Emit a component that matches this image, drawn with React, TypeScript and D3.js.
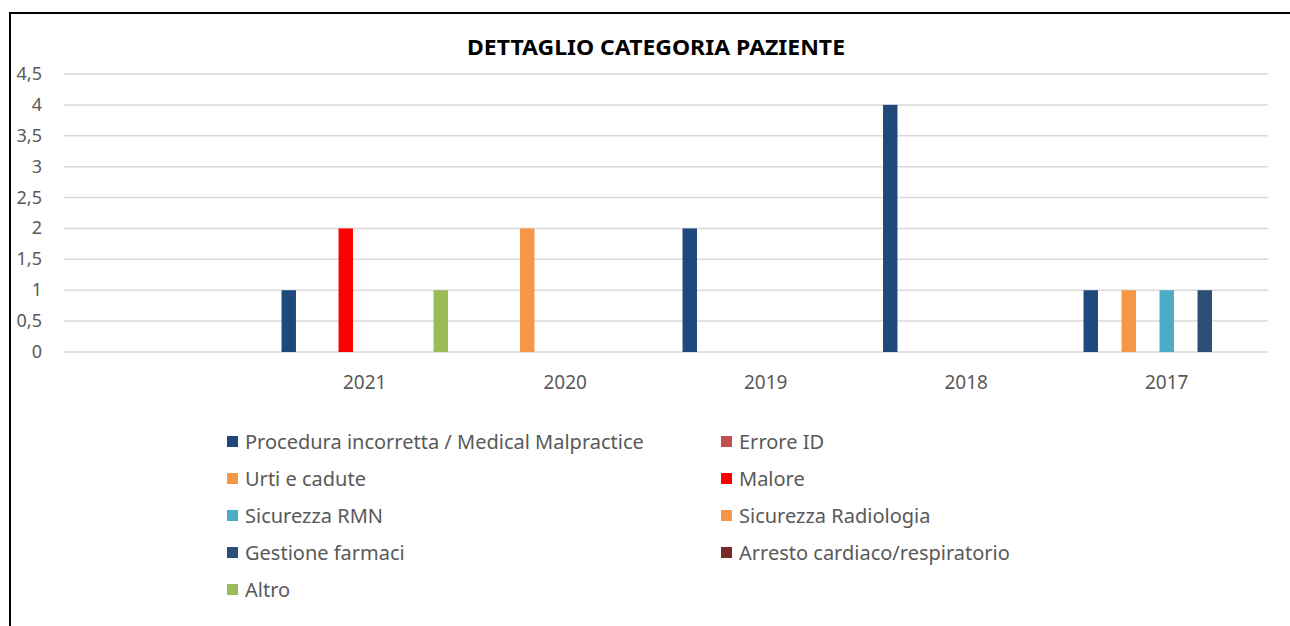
import React from "react";
import * as d3 from "d3";

const categories = ["", "2021", "2020", "2019", "2018", "2017"];
const seriesNames = [
  "Procedura incorretta / Medical Malpractice",
  "Errore ID",
  "Urti e cadute",
  "Malore",
  "Sicurezza RMN",
  "Sicurezza Radiologia",
  "Gestione farmaci",
  "Arresto cardiaco/respiratorio",
  "Altro",
];
const seriesColors = ["#1F497D", "#C0504D", "#F79646", "#FF0000", "#4BACC6", "#F79646", "#2C4D75", "#772C2A", "#9BBB59"];
// values[series][category]
const procedura = [0, 1, 0, 2, 4, 1];
const erroreId = [0, 0, 0, 0, 0, 0];
const urti = [0, 0, 2, 0, 0, 1];
const malore = [0, 2, 0, 0, 0, 0];
const rmn = [0, 0, 0, 0, 0, 1];
const radiologia = [0, 0, 0, 0, 0, 0];
const farmaci = [0, 0, 0, 0, 0, 1];
const arresto = [0, 0, 0, 0, 0, 0];
const altro = [0, 1, 0, 0, 0, 0];
const values = [procedura, erroreId, urti, malore, rmn, radiologia, farmaci, arresto, altro];
const yTicks = [0, 0.5, 1, 1.5, 2, 2.5, 3, 3.5, 4, 4.5];

const FONT = "'Noto Sans', sans-serif";

export default function App() {
  const W = 1290, H = 626;
  const x = d3.scaleBand<string>().domain(categories).range([64, 1267]).paddingInner(0).paddingOuter(0);
  const inner = d3.scaleBand<number>().domain(d3.range(9)).range([-85.5, 85.5]).paddingInner(0.24).paddingOuter(0.12);
  const y = d3.scaleLinear().domain([0, 4.5]).range([352, 74]);
  const fmt = (v: number) => String(v).replace(".", ",");
  return (
    <svg width={W} height={H} style={{ display: "block", position: "absolute", left: 0, top: 0 }}>
      <rect x={0} y={0} width={W} height={H} fill="#fff" />
      <rect x={10} y={13} width={1400} height={800} fill="#fff" stroke="#000" strokeWidth={2} />
      <text x={656} y={55} textAnchor="middle" fontFamily={FONT} fontWeight="bold" fontSize={21} fill="#000" textLength={378} lengthAdjust="spacingAndGlyphs">
        DETTAGLIO CATEGORIA PAZIENTE
      </text>
      {yTicks.map((t) => (
        <g key={t}>
          <line x1={64} x2={1268} y1={y(t)} y2={y(t)} stroke="#D9D9D9" strokeWidth={1.5} />
          <text x={42} y={y(t) + 6} textAnchor="end" fontFamily={FONT} fontSize={18} fill="#595959">
            {fmt(t)}
          </text>
        </g>
      ))}
      {categories.map((c) => (
        <text key={c + "l"} x={(x(c) as number) + x.bandwidth() / 2} y={389} textAnchor="middle" fontFamily={FONT} fontSize={19} fill="#595959">
          {c}
        </text>
      ))}
      {values.map((vals, si) =>
        vals.map((v, ci) =>
          v > 0 ? (
            <rect
              key={si + "-" + ci}
              x={(x(categories[ci]) as number) + x.bandwidth() / 2 + (inner(si) as number)}
              y={y(v)}
              width={inner.bandwidth()}
              height={y(0) - y(v)}
              fill={seriesColors[si]}
            />
          ) : null
        )
      )}
      {seriesNames.map((n, i) => {
        const col = i % 2;
        const row = Math.floor(i / 2);
        const lx = col === 0 ? 227 : 721;
        const ly = 442 + row * 37;
        return (
          <g key={n}>
            <rect x={lx} y={ly - 6} width={11} height={11} fill={seriesColors[i]} />
            <text x={lx + 18} y={ly + 7} fontFamily={FONT} fontSize={20} fill="#595959">
              {n}
            </text>
          </g>
        );
      })}
    </svg>
  );
}
